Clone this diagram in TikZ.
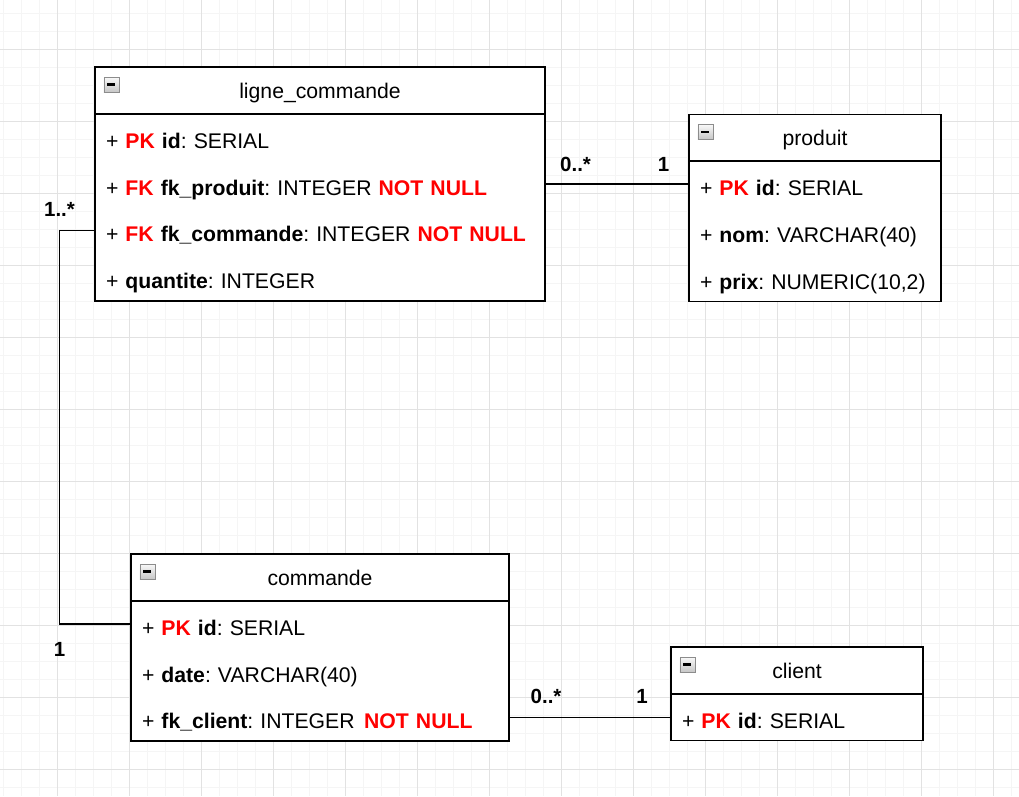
\documentclass[tikz,border=0pt]{standalone}
\usepackage{fontspec}
\setmainfont{Liberation Sans}
\usetikzlibrary{positioning, fit, calc}

\definecolor{keyred}{HTML}{FF0000}
\definecolor{gridmajor}{HTML}{E2E2E2}
\definecolor{gridminor}{HTML}{F5F5F5}
\newcommand{\keypk}{\textcolor{keyred}{\textbf{PK}}}
\newcommand{\keyfk}{\textcolor{keyred}{\textbf{FK}}}
\newcommand{\keynn}{\textcolor{keyred}{\textbf{NOT NULL}}}
\frenchspacing

\begin{document}
\begin{tikzpicture}[
    x=1pt, y=-1pt,
    font=\fontsize{21.2}{25}\selectfont,
    % Styles
    tabhead/.style={ % Table title bar
        rectangle,
        draw,
        line width=1.6pt,
        fill=white,
        outer sep=0pt,
        minimum width=#1,
        minimum height=46.75pt,
        text height=15.6pt,
        text depth=0pt,
        anchor=north west
    },
    tabrow/.style={ % One attribute line
        rectangle,
        fill=white,
        outer sep=0pt,
        inner xsep=11pt,
        text width=#1,
        align=left,
        minimum height=46.75pt,
        text height=22.6pt,
        text depth=0pt
    },
    tabframe/.style={ % Frame round the attributes
        rectangle,
        draw,
        line width=1.6pt,
        inner sep=0pt
    },
    tabicon/.style={ % Collapse button
        rectangle,
        draw=gray!90,
        line width=0.9pt,
        top color=gray!5,
        bottom color=gray!45,
        minimum size=15pt,
        inner sep=0pt
    },
    assoc/.style={
        line width=1.3pt
    },
    mult/.style={ % Multiplicity labels
        font=\fontsize{20.5}{24}\selectfont\bfseries,
        inner sep=0pt
    }
]
    % Background and grid
    \useasboundingbox (0,0) rectangle (1019,796);
    \fill[white] (0,0) rectangle (1019,796);
    \foreach \i in {0,...,56} \draw[gridminor, line width=0.9pt] ({3.3+18*\i},0) -- ++(0,796);
    \foreach \i in {0,...,43} \draw[gridminor, line width=0.9pt] (0,{13.3+18*\i}) -- ++(1019,0);
    \foreach \i in {0,...,13} \draw[gridmajor, line width=0.9pt] ({57.3+72*\i},0) -- ++(0,796);
    \foreach \i in {0,...,10} \draw[gridmajor, line width=0.9pt] (0,{49.3+72*\i}) -- ++(1019,0);

    % Table ligne_commande
    \node[tabhead=450pt] (lc) at (95,67) {ligne\_commande};
    \node[tabicon, below right=9.7pt and 8.5pt of lc.north west] (lcicon) {\rule{8pt}{2.4pt}};
    \node[tabrow=428pt] (lc1) [below=0pt of lc] {+ \keypk{} \textbf{id}: SERIAL};
    \node[tabrow=428pt] (lc2) [below=0pt of lc1] {+ \keyfk{} \textbf{fk\_produit}: INTEGER \keynn};
    \node[tabrow=428pt] (lc3) [below=0pt of lc2] {+ \keyfk{} \textbf{fk\_commande}: INTEGER \keynn};
    \node[tabrow=428pt] (lc4) [below=0pt of lc3] {+ \textbf{quantite}: INTEGER};
    \node[tabframe, fit=(lc1)(lc4)] (lcbody) {};

    % Table produit
    \node[tabhead=252pt] (pr) at (689,114.3) {produit};
    \node[tabicon, below right=9.7pt and 8.5pt of pr.north west] (pricon) {\rule{8pt}{2.4pt}};
    \node[tabrow=230pt] (pr1) [below=0pt of pr] {+ \keypk{} \textbf{id}: SERIAL};
    \node[tabrow=230pt] (pr2) [below=0pt of pr1] {+ \textbf{nom}: VARCHAR(40)};
    \node[tabrow=230pt] (pr3) [below=0pt of pr2] {+ \textbf{prix}: NUMERIC(10,2)};
    \node[tabframe, fit=(pr1)(pr3)] (prbody) {};

    % Table commande
    \node[tabhead=378pt] (cm) at (131,554) {commande};
    \node[tabicon, below right=9.7pt and 8.5pt of cm.north west] (cmicon) {\rule{8pt}{2.4pt}};
    \node[tabrow=356pt] (cm1) [below=0pt of cm] {+ \keypk{} \textbf{id}: SERIAL};
    \node[tabrow=356pt] (cm2) [below=0pt of cm1] {+ \textbf{date}: VARCHAR(40)};
    \node[tabrow=356pt] (cm3) [below=0pt of cm2] {+ \textbf{fk\_client}: INTEGER\hspace{0.45em}\keynn};
    \node[tabframe, fit=(cm1)(cm3)] (cmbody) {};

    % Table client
    \node[tabhead=252pt] (cl) at (671,647) {client};
    \node[tabicon, below right=9.7pt and 8.5pt of cl.north west] (clicon) {\rule{8pt}{2.4pt}};
    \node[tabrow=230pt] (cl1) [below=0pt of cl] {+ \keypk{} \textbf{id}: SERIAL};
    \node[tabframe, fit=(cl1)] (clbody) {};

    % Associations with multiplicities
    \draw[assoc] (lc2.east) -- node[mult, pos=0, anchor=base west, xshift=14.5pt, yshift=12.4pt] {0..*}
        node[mult, pos=1, anchor=base east, xshift=-19pt, yshift=12.4pt] {1} (lc2.east -| pr1.west);
    \draw[assoc] (lc3.west) -- ++(-35.5,0) node[mult, anchor=base, yshift=14.3pt] {1..*}
        |- node[mult, pos=0.5, anchor=north, yshift=-18pt] {1} (cm1.west);
    \draw[assoc] (cm3.east) -- node[mult, pos=0, anchor=base west, xshift=21pt, yshift=14.6pt] {0..*}
        node[mult, pos=1, anchor=base east, xshift=-22.7pt, yshift=14.6pt] {1} (cm3.east -| cl1.west);
\end{tikzpicture}
\end{document}
